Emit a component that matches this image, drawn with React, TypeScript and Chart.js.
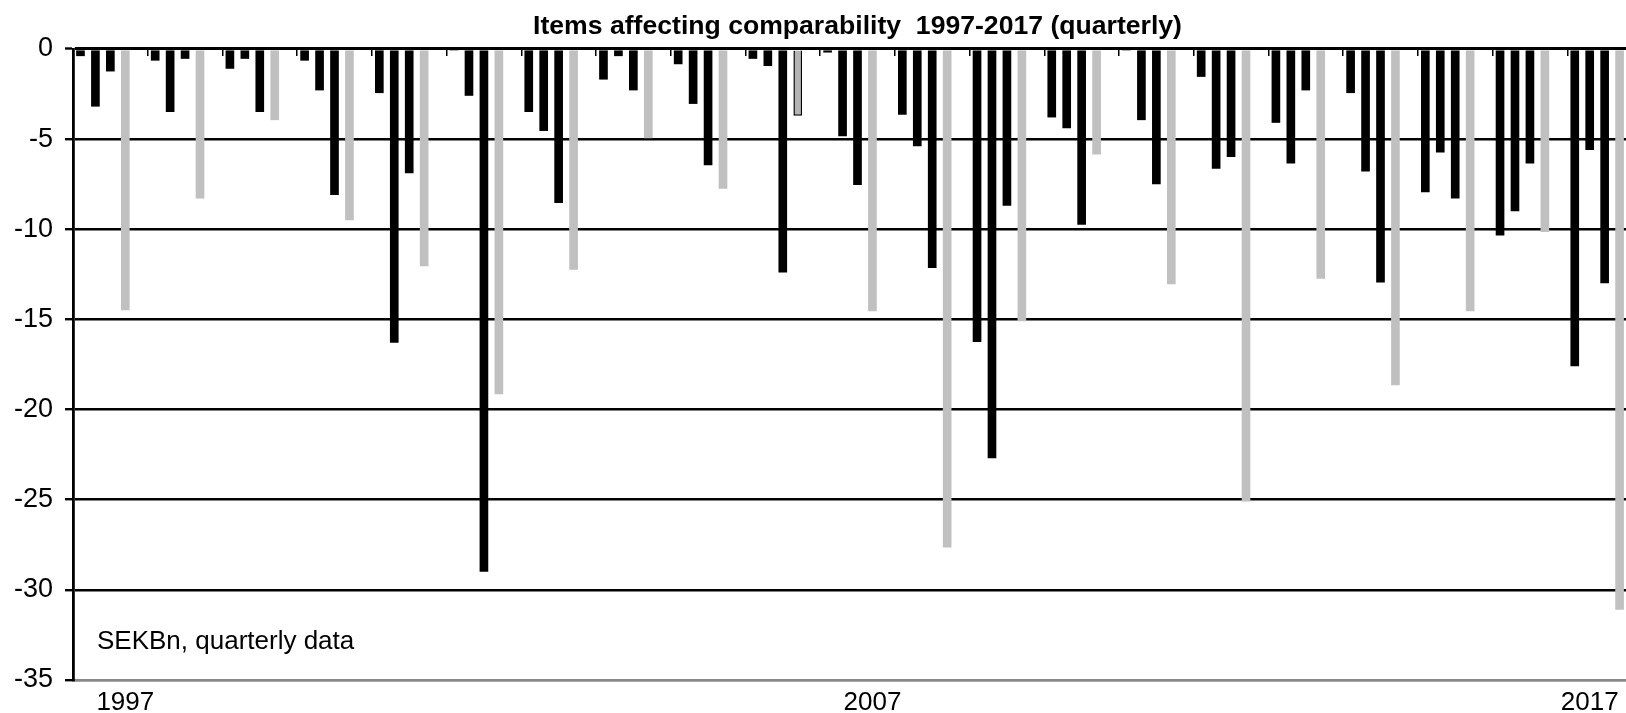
import React, { useEffect, useRef } from 'react';
import { Chart, registerables } from 'chart.js';

Chart.register(...registerables);

// ---------- data ----------
const years = ['1997', '1998', '1999', '2000', '2001', '2002', '2003', '2004', '2005', '2006', '2007',
  '2008', '2009', '2010', '2011', '2012', '2013', '2014', '2015', '2016', '2017'];

// SEKBn, items affecting comparability per quarter
const q1 = [-0.4, -0.65, -1.1, -0.65, -2.45, -0.1, -3.5, -1.7, -0.85, -0.55, -0.2,
  -3.65, -16.25, -3.8, -0.1, -1.55, -4.1, -2.45, -7.95, -10.35, -17.6];
const q2 = [-3.2, -3.5, -0.55, -2.3, -16.3, -2.6, -4.55, -0.4, -3.05, -0.95, -4.85,
  -5.4, -22.7, -4.4, -3.95, -6.65, -6.35, -6.8, -5.75, -9.0, -5.6];
const q3 = [-1.25, -0.55, -3.5, -8.1, -6.9, -29.0, -8.55, -2.3, -6.45, -12.4, -7.55,
  -12.15, -8.7, -9.75, -7.5, -6.0, -2.3, -12.95, -8.3, -6.35, -13.0];
const q4 = [-14.5, -8.3, -3.95, -9.5, -12.05, -19.15, -12.25, -4.95, -7.75, -3.7, -14.55,
  -27.65, -15.1, -5.85, -13.05, -25.1, -12.75, -18.65, -14.55, -10.15, -31.1];

const quarterNames = ['Q1', 'Q2', 'Q3', 'Q4'];
const outlinedBars = ['2006 Q4'];

const yMin = -35;
const yMax = 0;
const yStep = 5;

const axisYearLabels = ['1997', '2007', '2017'];
const axisYearLabelSlot = [3, 3, 1];

const titleText = 'Items affecting comparability  1997-2017 (quarterly)';
const noteText = 'SEKBn, quarterly data';

// ---------- build table ----------
const SLOTS = 5; // 4 quarters + 1 empty slot per year
const labels: string[] = [];
const values: (number | null)[] = [];
years.forEach((y, i) => {
  const qs = [q1[i], q2[i], q3[i], q4[i]];
  qs.forEach((v, k) => {
    labels.push(`${y} ${quarterNames[k]}`);
    values.push(v);
  });
  labels.push(`${y} -`);
  values.push(null);
});

const FONT = '"Liberation Sans", Arial, Helvetica, sans-serif';
const BLACK = '#000000';
const GRAY = '#c0c0c0';

const notePlugin = {
  id: 'noteText',
  afterDraw(chart: any) {
    const { ctx, chartArea } = chart;
    ctx.save();
    ctx.font = `26px ${FONT}`;
    ctx.fillStyle = BLACK;
    ctx.textBaseline = 'alphabetic';
    ctx.textAlign = 'left';
    ctx.fillText(noteText, chartArea.left + 24, chartArea.bottom - 31);
    ctx.restore();
  },
};

export default function App() {
  const ref = useRef<HTMLCanvasElement>(null);

  useEffect(() => {
    if (!ref.current) return;
    const chart = new Chart(ref.current, {
      type: 'bar',
      data: {
        labels,
        datasets: [
          {
            data: values,
            backgroundColor: (ctx: any) => {
              const i = ctx.dataIndex;
              if (outlinedBars.includes(labels[i])) return '#b4b4b4';
              return i % SLOTS === 3 ? GRAY : BLACK;
            },
            borderColor: BLACK,
            borderWidth: (ctx: any) => (outlinedBars.includes(labels[ctx.dataIndex]) ? 1.5 : 0),
            barPercentage: 0.58,
            categoryPercentage: 1.0,
          },
        ],
      },
      plugins: [notePlugin],
      options: {
        responsive: true,
        maintainAspectRatio: false,
        devicePixelRatio: 1,
        animation: false,
        layout: { padding: { left: 0, right: 8, top: 0, bottom: 0 } },
        plugins: {
          legend: { display: false },
          tooltip: { enabled: false },
          title: {
            display: true,
            text: titleText,
            fullSize: false,
            color: BLACK,
            font: { size: 26.6, weight: 'bold', family: FONT },
            padding: { top: 11, bottom: 6 },
          },
        },
        scales: {
          x: {
            type: 'category',
            position: 'bottom',
            offset: true,
            grid: { display: true, drawOnChartArea: false, drawTicks: false },
            border: { display: true, color: '#888888', width: 2.5 },
            ticks: {
              autoSkip: false,
              maxRotation: 0,
              minRotation: 0,
              padding: 7,
              color: BLACK,
              font: { size: 26, family: FONT },
              callback: (_v: any, idx: number) => {
                const yi = Math.floor(idx / SLOTS);
                const slot = idx % SLOTS;
                const k = axisYearLabels.indexOf(years[yi]);
                return k >= 0 && axisYearLabelSlot[k] === slot ? years[yi] : '';
              },
            },
            afterFit: (s: any) => {
              s.height = 45;
            },
          },
          xTop: {
            type: 'category',
            axis: 'x',
            position: { y: 0 },
            offset: true,
            grid: {
              display: true,
              offset: true,
              drawOnChartArea: false,
              drawTicks: true,
              tickLength: 7,
              tickWidth: 1.5,
              lineWidth: 1.5,
              color: (ctx: any) => (ctx.index !== undefined && ctx.index % SLOTS === 0 ? BLACK : 'rgba(0,0,0,0)'),
              tickColor: (ctx: any) => (ctx.index !== undefined && ctx.index % SLOTS === 0 ? BLACK : 'rgba(0,0,0,0)'),
            },
            border: { display: false },
            ticks: { display: false },
          },
          y: {
            min: yMin,
            max: yMax,
            ticks: {
              stepSize: yStep,
              padding: 12,
              color: BLACK,
              font: { size: 27, family: FONT },
            },
            grid: {
              color: (ctx: any) => (ctx.tick && ctx.tick.value === yMin ? '#888888' : BLACK),
              lineWidth: (ctx: any) => (ctx.tick && ctx.tick.value === 0 ? 3 : 2.4),
              tickLength: 8,
              tickColor: BLACK,
              tickWidth: 2.4,
            },
            border: { display: true, color: BLACK, width: 2.8 },
            afterFit: (s: any) => {
              s.width = 73;
            },
          },
        },
      } as any,
    });
    return () => chart.destroy();
  }, []);

  return (
    <div
      style={{
        position: 'fixed',
        left: 0,
        top: 0,
        width: 1626,
        height: 713,
        overflow: 'hidden',
        background: '#ffffff',
      }}
    >
      <div style={{ position: 'relative', width: 1650, height: 725 }}>
        <canvas ref={ref} />
      </div>
    </div>
  );
}
